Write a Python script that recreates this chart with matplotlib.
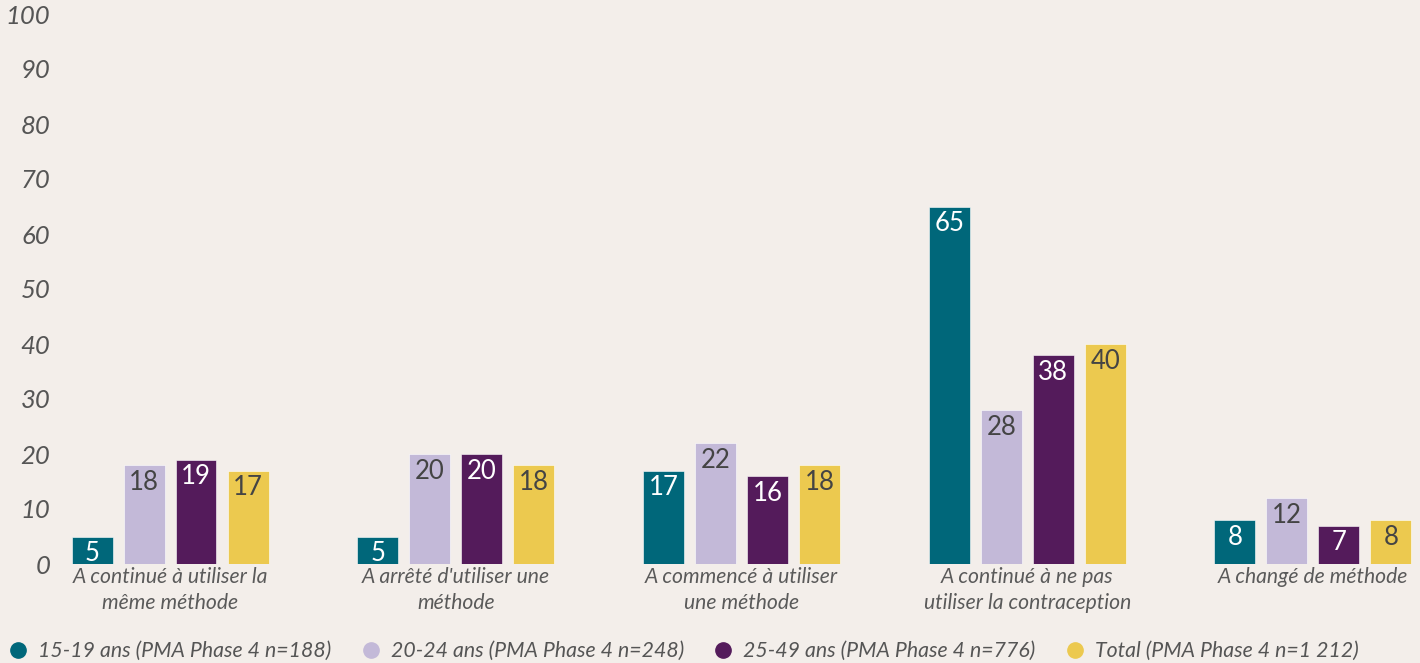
import matplotlib.pyplot as plt
from matplotlib.lines import Line2D
import numpy as np

plt.rcParams['font.family'] = ['Lato', 'DejaVu Sans']

categories = ["A continué à utiliser la\nmême méthode",
              "A arrêté d'utiliser une\nméthode",
              "A commencé à utiliser\nune méthode",
              "A continué à ne pas\nutiliser la contraception",
              "A changé de méthode"]
series = ["15-19 ans (PMA Phase 4 n=188)",
          "20-24 ans (PMA Phase 4 n=248)",
          "25-49 ans (PMA Phase 4 n=776)",
          "Total (PMA Phase 4 n=1 212)"]
age_15_19 = [5, 5, 17, 65, 8]
age_20_24 = [18, 20, 22, 28, 12]
age_25_49 = [19, 20, 16, 38, 7]
total = [17, 18, 18, 40, 8]
values = [age_15_19, age_20_24, age_25_49, total]

colors = ["#00677a", "#c3b9d8", "#541b5b", "#ecc94f"]
text_colors = ["white", "#444444", "white", "#444444"]
bg = "#f3eeea"

W, H = 1420, 663
fig = plt.figure(figsize=(W / 100, H / 100), dpi=100, facecolor=bg)
ax = fig.add_axes([60 / W, 99 / H, 1360 / W, 550 / H], facecolor=bg)

x = np.arange(len(categories))
step = 52 / 285.75
width = 41 / 285.75
for i, (vals, c, tc) in enumerate(zip(values, colors, text_colors)):
    pos = x + (i - 1.5) * step
    bars = ax.bar(pos, vals, width=width, color=c, edgecolor="#ffffff", linewidth=0.4)
    for b, v in zip(bars, vals):
        ax.annotate(str(v), (b.get_x() + b.get_width() / 2, v),
                    xytext=(0, -12.5), textcoords="offset points",
                    ha="center", va="center", fontsize=18.5, color=tc)

ax.set_xlim((60 - 170) / 285.75, (1420 - 170) / 285.75)
ax.set_ylim(0, 100)
ax.set_yticks(range(0, 101, 10))
ax.set_xticks(x)
ax.set_xticklabels(categories, fontsize=15.2, style="italic", color="#5a5a5a",
                   linespacing=1.42)
for lab in ax.get_yticklabels():
    lab.set_fontstyle("italic")
ax.tick_params(axis="y", length=0, pad=7, labelsize=18.5, labelcolor="#555555")
ax.tick_params(axis="x", length=0, pad=2)
for s in ax.spines.values():
    s.set_visible(False)

handles = [Line2D([], [], marker="o", linestyle="none", markersize=11,
                  markerfacecolor=c, markeredgecolor=c) for c in colors]
leg = fig.legend(handles, series, loc="center left", bbox_to_anchor=(5 / W, 12 / H),
                 ncol=4, frameon=False, handlelength=0.8, handletextpad=0.55,
                 columnspacing=1.45, borderaxespad=0, borderpad=0.2,
                 prop={"size": 15.3, "style": "italic"})
for t in leg.get_texts():
    t.set_color("#555555")

fig.savefig("out.png", dpi=100, facecolor=bg)
